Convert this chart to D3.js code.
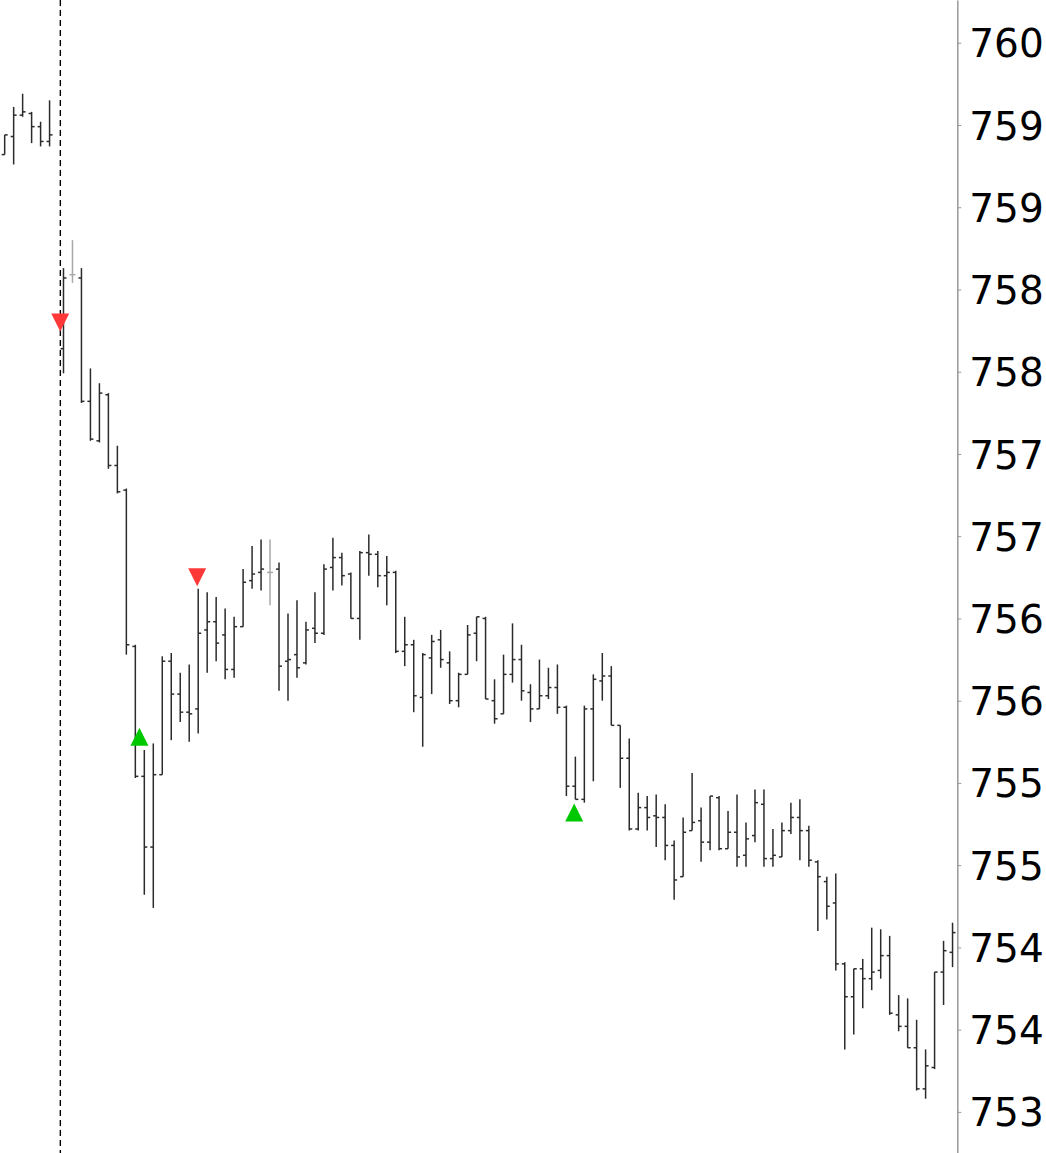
<!DOCTYPE html>
<html><head><meta charset="utf-8">
<script src="https://cdn.jsdelivr.net/npm/d3@7"></script>
<style>html,body{margin:0;padding:0;background:#fff;overflow:hidden}</style>
</head><body><svg id="chart" width="1046" height="1153"></svg>
<script>
// ---- data ----
const opens = [
759.07,759.18,759.31,759.32,759.24,759.15,
757.89,758.34,758.32,757.57,757.33,757.61,757.18,757.03,756.08,755.29,
754.86,755.30,755.99,755.79,755.68,755.70,756.18,756.23,756.15,755.94,
756.20,756.48,756.53,756.53,756.55,755.99,756.03,755.98,756.19,756.16,
756.56,756.62,756.52,756.25,756.65,756.64,756.51,756.53,756.05,756.09,
755.77,756.01,756.12,755.98,755.75,755.91,756.16,756.25,755.75,755.67,
755.91,756.00,755.80,755.70,755.78,755.83,755.71,755.23,755.15,755.70,
755.87,755.90,755.60,755.40,754.97,755.10,755.05,755.04,754.87,754.68,
754.96,755.02,754.89,755.16,754.85,754.95,754.81,754.93,755.12,754.79,
754.80,754.96,755.04,754.96,754.77,754.65,754.52,754.15,753.95,754.12,
754.06,754.11,754.20,753.84,753.77,753.64,753.39,753.52,754.10,754.22];
const highs = [
759.19,759.36,759.44,759.33,759.27,759.40,
758.38,758.55,758.38,757.77,757.68,757.62,757.30,757.04,756.09,755.45,
755.49,756.02,756.04,755.92,755.97,756.43,756.41,756.38,756.31,756.26,
756.55,756.69,756.73,756.73,756.59,756.28,756.36,756.23,756.41,756.58,
756.74,756.65,756.53,756.66,756.76,756.66,756.63,756.54,756.26,756.12,
756.04,756.15,756.18,756.05,755.92,756.21,756.26,756.26,755.88,756.03,
756.22,756.09,755.85,756.00,755.95,755.97,755.72,755.41,755.72,755.91,
756.04,755.96,755.60,755.52,755.19,755.17,755.18,755.12,754.90,755.04,
755.31,755.10,755.17,755.17,755.08,755.18,755.01,755.21,755.21,754.97,
755.01,755.13,755.15,754.99,754.78,754.68,754.70,754.16,754.12,754.18,
754.37,754.36,754.32,753.96,753.94,753.81,753.63,754.10,754.29,754.40];
const lows = [
759.07,759.01,759.30,759.14,759.12,759.12,
757.74,758.29,757.56,757.33,757.32,757.16,757.01,756.03,755.28,754.57,
754.49,755.30,755.51,755.62,755.50,755.55,755.92,755.99,755.88,755.89,
756.20,756.43,756.42,756.33,755.81,755.75,755.89,755.97,756.10,756.15,
756.42,756.45,756.25,756.12,756.51,756.44,756.33,756.04,755.96,755.68,
755.47,755.79,755.95,755.73,755.71,755.91,755.99,755.76,755.61,755.67,
755.86,755.75,755.62,755.70,755.76,755.67,755.17,755.15,755.13,755.26,
755.75,755.60,755.22,754.96,754.96,754.96,754.86,754.78,754.54,754.68,
754.96,754.77,754.84,754.84,754.85,754.74,754.74,754.89,754.74,754.74,
754.80,754.94,754.78,754.74,754.35,754.42,754.11,753.63,753.72,753.88,
753.99,754.06,753.84,753.74,753.64,753.38,753.33,753.51,753.90,754.13];
const closes = [
759.19,759.31,759.33,759.24,759.15,759.19,
758.32,758.34,757.57,757.34,757.62,757.18,757.02,756.09,755.29,754.86,
755.30,755.99,755.79,755.68,755.67,756.16,756.23,756.10,755.94,756.20,
756.47,756.52,756.55,756.53,755.96,756.00,755.95,756.18,756.16,756.55,
756.62,756.51,756.25,756.65,756.64,756.51,756.53,756.05,756.09,755.78,
756.03,756.11,756.00,755.75,755.91,756.15,756.26,755.76,755.64,755.91,
756.00,755.81,755.70,755.78,755.83,755.71,755.23,755.15,755.70,755.88,
755.90,755.60,755.40,754.97,755.10,755.04,755.04,754.87,754.66,754.95,
755.01,754.89,755.17,754.85,754.95,754.80,754.91,755.13,754.79,754.81,
754.96,755.04,754.96,754.78,754.68,754.50,754.15,753.95,754.12,754.06,
754.10,754.20,753.85,753.77,753.64,753.39,753.53,754.10,754.23,754.34];

// session break (bars before it belong to the previous session)
const sessionBreakIndex = 6;
const sessionGap = 0.55;
const sessionLineSlot = 6.2;

// trade signals
const signalSlots  = [6.19, 15.01, 21.44, 63.42];
const signalPrices = [758.05, 755.53, 756.50, 755.07];
const signalTypes  = ["sell", "buy", "sell", "buy"];

// y ticks
const tickValues = [759.75,759.25,758.75,758.25,757.75,757.25,756.75,756.25,755.75,755.25,754.75,754.25,753.75,753.25];
const tickLabels = ["760","759","759","758","758","757","757","756","756","755","755","754","754","753"];

// ---- drawing ----
const W = 1046, H = 1153, plotRight = 957.3;
const svg = d3.select("#chart");
const x = d3.scaleLinear().domain([-0.52, 106.08]).range([0, plotRight]);
const y = d3.scaleLinear().domain([753.0, 760.01]).range([H, 0]);

const bars = opens.map((o, i) => ({
  slot: i + (i >= sessionBreakIndex ? sessionGap : 0),
  o, h: highs[i], l: lows[i], c: closes[i]
}));

const tickLen = 3;
const g = svg.append("g");
const bar = g.selectAll("g.bar").data(bars).join("g").attr("class", "bar")
  .attr("stroke", d => d.o === d.c ? "#a8a8a8" : "#2b2b2b")
  .attr("stroke-width", 1.5);
bar.append("line")
  .attr("x1", d => x(d.slot)).attr("x2", d => x(d.slot))
  .attr("y1", d => y(d.h)).attr("y2", d => y(d.l));
bar.append("line")
  .attr("x1", d => x(d.slot) - tickLen).attr("x2", d => x(d.slot))
  .attr("y1", d => y(d.o)).attr("y2", d => y(d.o));
bar.append("line")
  .attr("x1", d => x(d.slot)).attr("x2", d => x(d.slot) + tickLen)
  .attr("y1", d => y(d.c)).attr("y2", d => y(d.c));

// session separator
svg.append("line")
  .attr("x1", x(sessionLineSlot)).attr("x2", x(sessionLineSlot))
  .attr("y1", 0).attr("y2", H)
  .attr("stroke", "#000").attr("stroke-width", 1.4)
  .attr("stroke-dasharray", "6,4");

// signals
const half = 9;
svg.selectAll("path.sig").data(signalSlots.map((s, i) => ({s, p: signalPrices[i], t: signalTypes[i]})))
  .join("path").attr("class", "sig")
  .attr("d", d => {
    const cx = x(d.s), cy = y(d.p);
    return d.t === "sell"
      ? `M${cx-half},${cy-half}L${cx+half},${cy-half}L${cx},${cy+half}Z`
      : `M${cx},${cy-half}L${cx+half},${cy+half}L${cx-half},${cy+half}Z`;
  })
  .attr("fill", d => d.t === "sell" ? "#ff3838" : "#00c800");

// right axis
const axis = d3.axisRight(y).tickValues(tickValues)
  .tickFormat((d, i) => tickLabels[i]).tickSize(4).tickSizeOuter(0).tickPadding(8);
const ag = svg.append("g").attr("transform", `translate(${plotRight},0)`).call(axis);
ag.select(".domain").attr("stroke", "#999").attr("stroke-width", 1.5);
ag.selectAll(".tick line").attr("stroke", "#999");
ag.selectAll(".tick text").attr("fill", "#000")
  .style("font-family", "'DejaVu Sans', sans-serif").style("font-size", "39px")
  .attr("dy", "0.36em");
</script></body></html>
